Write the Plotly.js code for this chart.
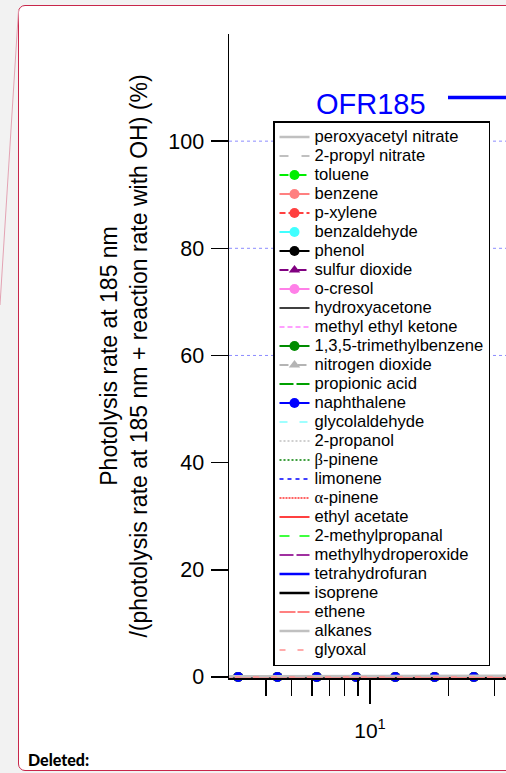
<!DOCTYPE html>
<html><head><meta charset="utf-8">
<script src="https://cdn.plot.ly/plotly-3.0.1.min.js"></script>
<style>
html,body{margin:0;padding:0;width:506px;height:773px;overflow:hidden;background:#f2f2f2;}
#frame{position:absolute;left:18px;top:5px;width:700px;height:766px;background:#fff;border:1px solid #c8264a;border-radius:7px;box-sizing:border-box;}
#conn{position:absolute;left:0;top:0;}
#chart{position:absolute;left:0;top:0;width:900px;height:773px;}
#del{position:absolute;left:28px;top:750px;font-family:Lato,'Open Sans',sans-serif;font-weight:900;font-size:16px;color:#000;}
</style></head>
<body>
<div id="frame"></div>
<svg id="conn" width="30" height="320"><line x1="18.5" y1="10" x2="0" y2="305" stroke="#e3a3b3" stroke-width="1"/></svg>
<div id="chart"></div>
<div id="del">Deleted:</div>
<script>
// ---- data ----
const xVals = [2.21, 3.125, 4.42, 6.25, 8.84, 12.5, 17.68, 25, 35.36];
const seriesNames = ["peroxyacetyl nitrate","2-propyl nitrate","toluene","benzene","p-xylene","benzaldehyde","phenol","sulfur dioxide","o-cresol","hydroxyacetone","methyl ethyl ketone","1,3,5-trimethylbenzene","nitrogen dioxide","propionic acid","naphthalene","glycolaldehyde","2-propanol","β-pinene","limonene","α-pinene","ethyl acetate","2-methylpropanal","methylhydroperoxide","tetrahydrofuran","isoprene","ethene","alkanes","glyoxal"];
const yPAN        = [0, 0, 0, 0, 0, 0, 0, 0, 0];
const yPropNitr   = [0, 0, 0, 0, 0, 0, 0, 0, 0];
const yToluene    = [0, 0, 0, 0, 0, 0, 0, 0, 0];
const yBenzene    = [0, 0, 0, 0, 0, 0, 0, 0, 0];
const yPXylene    = [0, 0, 0, 0, 0, 0, 0, 0, 0];
const yBenzald    = [0, 0, 0, 0, 0, 0, 0, 0, 0];
const yPhenol     = [0, 0, 0, 0, 0, 0, 0, 0, 0];
const ySO2        = [0, 0, 0, 0, 0, 0, 0, 0, 0];
const yOCresol    = [0, 0, 0, 0, 0, 0, 0, 0, 0];
const yHydroxyac  = [0, 0, 0, 0, 0, 0, 0, 0, 0];
const yMEK        = [0, 0, 0, 0, 0, 0, 0, 0, 0];
const yTMB        = [0, 0, 0, 0, 0, 0, 0, 0, 0];
const yNO2        = [0, 0, 0, 0, 0, 0, 0, 0, 0];
const yPropAcid   = [0, 0, 0, 0, 0, 0, 0, 0, 0];
const yNaphth     = [0, 0, 0, 0, 0, 0, 0, 0, 0];
const yGlycolald  = [0, 0, 0, 0, 0, 0, 0, 0, 0];
const yPropanol   = [0, 0, 0, 0, 0, 0, 0, 0, 0];
const yBPinene    = [0, 0, 0, 0, 0, 0, 0, 0, 0];
const yLimonene   = [0, 0, 0, 0, 0, 0, 0, 0, 0];
const yAPinene    = [0, 0, 0, 0, 0, 0, 0, 0, 0];
const yEthylAc    = [0, 0, 0, 0, 0, 0, 0, 0, 0];
const yMePropanal = [0, 0, 0, 0, 0, 0, 0, 0, 0];
const yMHP        = [0, 0, 0, 0, 0, 0, 0, 0, 0];
const yTHF        = [0, 0, 0, 0, 0, 0, 0.05, 0.05, 0.05];
const yIsoprene   = [0, 0, 0, 0, 0, 0, 0, 0, 0];
const yEthene     = [0, 0, 0, 0, 0, 0, 0, 0, 0];
const yAlkanes    = [0.1, 0.1, 0.1, 0.1, 0.1, 0.15, 0.2, 0.2, 0.2];
const yGlyoxal    = [0, 0, 0, 0, 0, 0, 0, 0, 0];
const yTickVals = [0, 20, 40, 60, 80, 100];
const xTickVals = [10];
const xTickText = ["10<sup>1</sup>"];
const xMinorVals = [4, 5, 6, 7, 8, 9, 20, 30, 40, 50, 60, 70, 80, 90];
const refLines = [60, 80, 100];

const ySeries = [yPAN,yPropNitr,yToluene,yBenzene,yPXylene,yBenzald,yPhenol,ySO2,yOCresol,yHydroxyac,yMEK,yTMB,yNO2,yPropAcid,yNaphth,yGlycolald,yPropanol,yBPinene,yLimonene,yAPinene,yEthylAc,yMePropanal,yMHP,yTHF,yIsoprene,yEthene,yAlkanes,yGlyoxal];

// ---- styles ----
const styles = [
 {c:"#c0c0c0", d:"solid", w:2.5},
 {c:"#c0c0c0", d:"9px,13px", w:2},
 {c:"#00ee00", d:"dash", w:2, m:"circle"},
 {c:"#ff8080", d:"solid", w:2, m:"circle"},
 {c:"#ff4040", d:"6px,3px", w:2, m:"circle"},
 {c:"#40ffff", d:"longdash", w:2, m:"circle"},
 {c:"#000000", d:"solid", w:2, m:"circle"},
 {c:"#800080", d:"dashdot", w:2, m:"triangle-up"},
 {c:"#ff80e8", d:"solid", w:2, m:"circle"},
 {c:"#000000", d:"solid", w:1.3},
 {c:"#ff80ff", d:"5px,3px", w:1.5},
 {c:"#008c00", d:"solid", w:2, m:"circle"},
 {c:"#b4b4b4", d:"dash", w:2, m:"triangle-up"},
 {c:"#00a000", d:"14px,3px", w:2},
 {c:"#0000ff", d:"solid", w:2, m:"circle"},
 {c:"#80ffff", d:"8px,12px", w:1.5},
 {c:"#c0c0c0", d:"2px,2px", w:1.5},
 {c:"#008000", d:"2px,2px", w:1.5},
 {c:"#0000ff", d:"4px,4px", w:1.5},
 {c:"#ff3030", d:"2px,1px", w:1.5},
 {c:"#ff4040", d:"solid", w:2},
 {c:"#00ff00", d:"10px,10px", w:1.5},
 {c:"#a030a0", d:"14px,3px", w:2},
 {c:"#0000ff", d:"solid", w:2.5},
 {c:"#000000", d:"solid", w:2.5},
 {c:"#ff8080", d:"16px,2px", w:2},
 {c:"#c0c0c0", d:"solid", w:2.5},
 {c:"#ff9090", d:"6px,12px", w:1.5}
];

function legendLabel(n){
  let t = n.replace("β","<span style='font-family:Liberation Serif'>β</span>")
           .replace("α","<span style='font-family:Liberation Serif'>α</span>");
  return "<span style='font-size:16.6px'>" + t + "</span>";
}

const traces = seriesNames.map((n,i)=>{
  const s = styles[i];
  const tr = {
    x: xVals, y: ySeries[i], name: legendLabel(n), type: "scatter",
    mode: s.m ? "lines+markers" : "lines",
    line: {color: s.c, dash: s.d, width: s.w},
    cliponaxis: false,
    hoverinfo: "skip"
  };
  if (s.m) tr.marker = {symbol: s.m, size: 10, color: s.c};
  return tr;
});

const plotW = 600, plotLeft = 229, plotTop = 34, plotH = 644;
const decadePx = 261;
const xStart = 1 - 141/decadePx;

const shapes = refLines.map(v=>({type:"line", xref:"paper", yref:"y", x0:0, x1:1, y0:v, y1:v,
  line:{color:"#8c8cff", width:1, dash:"dot"}, layer:"below"}));
shapes.push({type:"line", xref:"paper", yref:"paper", x0:(448-plotLeft)/plotW, x1:0.6,
  y0:(plotTop+plotH-97.5)/plotH, y1:(plotTop+plotH-97.5)/plotH, line:{color:"#0000ff", width:3.5}});

const layout = {
  width: 900, height: 773,
  margin: {l: plotLeft, r: 900-plotLeft-plotW, t: plotTop, b: 773-plotTop-plotH},
  paper_bgcolor: "rgba(0,0,0,0)", plot_bgcolor: "rgba(0,0,0,0)",
  font: {family: "Liberation Sans, Arial, sans-serif", color: "#000"},
  showlegend: true,
  legend: {x: (273-plotLeft)/plotW, xanchor: "left", y: (plotTop+plotH-121)/plotH, yanchor: "top",
    bgcolor: "#ffffff", bordercolor: "#000000", borderwidth: 1.5,
    font: {size: 12, family: "Liberation Sans, Arial, sans-serif", color: "#000"},
    traceorder: "normal", itemwidth: 30},
  xaxis: {type: "log", range: [xStart, xStart + plotW/decadePx], showgrid: false, zeroline: false,
    showline: true, linecolor: "#000", linewidth: 1.5, mirror: false,
    ticks: "outside", ticklen: 24, tickwidth: 1.5, tickcolor: "#000",
    tickmode: "array", tickvals: xTickVals, ticktext: xTickText,
    tickfont: {size: 21}, ticklabelstandoff: 9,
    minor: {tickmode: "array", tickvals: xMinorVals, ticks: "outside", ticklen: 16, tickwidth: 1.5, tickcolor: "#000", showgrid: false}},
  yaxis: {range: [-0.2, 120], showgrid: false, zeroline: false,
    showline: true, linecolor: "#000", linewidth: 1.5,
    ticks: "outside", ticklen: 17, tickwidth: 1.5, tickcolor: "#000",
    tickmode: "array", tickvals: yTickVals, tickfont: {size: 21.5}, ticklabelstandoff: 2,
    title: {text: "Photolysis rate at 185 nm<br>/(photolysis rate at 185 nm + reaction rate with OH) (%)",
      font: {size: 23}, standoff: 14}},
  shapes: shapes,
  annotations: [{xref: "paper", yref: "paper", x: (371-plotLeft)/plotW, y: (plotTop+plotH-104)/plotH,
    text: "OFR185", showarrow: false, font: {size: 29, color: "#0000ff"}, xanchor: "center", yanchor: "middle"}]
};

Plotly.newPlot("chart", traces, layout, {displayModeBar: false, staticPlot: true});
</script>
</body></html>
